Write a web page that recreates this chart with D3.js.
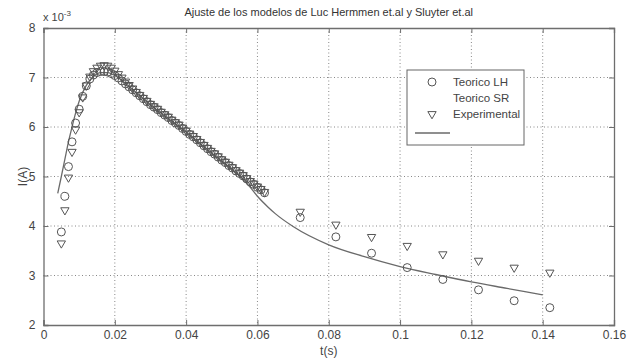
<!DOCTYPE html>
<html>
<head>
<meta charset="utf-8">
<script src="https://cdn.jsdelivr.net/npm/d3@7/dist/d3.min.js"></script>
<style>
body { margin: 0; background: #fff; }
svg { font-family: "Liberation Sans", Arial, sans-serif; }
</style>
</head>
<body>
<svg width="639" height="360"></svg>
<script>
// Ajuste de los modelos - I(A) vs t(s), values in units of 1e-3 A

const title = 'Ajuste de los modelos de Luc Hermmen et.al y Sluyter et.al'
const xTicks = [0, 0.02, 0.04, 0.06, 0.08, 0.1, 0.12, 0.14, 0.16]
const yTicks = [2, 3, 4, 5, 6, 7, 8]

// dense part of the measurement, t = 0.005 .. 0.062
const tDense = d3.range(5, 63).map(function(k) { return k / 1000 })
const lhDense = [3.88, 4.60, 5.20, 5.70, 6.08, 6.36, 6.62, 6.83, 6.97, 7.05,
	7.10, 7.12, 7.12, 7.11, 7.08, 7.04, 6.99, 6.93, 6.87, 6.81,
	6.75, 6.69, 6.63, 6.57, 6.51, 6.45, 6.40, 6.35, 6.29, 6.24,
	6.19, 6.13, 6.08, 6.03, 5.97, 5.91, 5.85, 5.80, 5.74, 5.68,
	5.62, 5.56, 5.50, 5.45, 5.39, 5.33, 5.28, 5.22, 5.17, 5.11,
	5.06, 5.01, 4.95, 4.89, 4.84, 4.78, 4.73, 4.67]
const expDense = [3.65, 4.32, 4.98, 5.50, 5.95, 6.30, 6.60, 6.84, 7.02, 7.13,
	7.20, 7.24, 7.25, 7.24, 7.20, 7.14, 7.07, 7.00, 6.92, 6.85,
	6.78, 6.71, 6.65, 6.59, 6.53, 6.47, 6.42, 6.37, 6.31, 6.26,
	6.21, 6.15, 6.10, 6.05, 5.99, 5.93, 5.87, 5.82, 5.76, 5.70,
	5.64, 5.58, 5.52, 5.47, 5.41, 5.35, 5.30, 5.24, 5.19, 5.13,
	5.08, 5.03, 4.97, 4.91, 4.86, 4.80, 4.75, 4.69]

// sparse part
const tSparse = [0.072, 0.082, 0.092, 0.102, 0.112, 0.122, 0.132, 0.142]
const lhSparse = [4.17, 3.78, 3.45, 3.16, 2.92, 2.71, 2.49, 2.35]
const expSparse = [4.29, 4.03, 3.78, 3.60, 3.43, 3.30, 3.16, 3.06]

// Teorico SR curve
const tSR = [0.004, 0.005, 0.006, 0.007, 0.008, 0.009, 0.010, 0.012, 0.014, 0.016,
	0.018, 0.020, 0.025, 0.030, 0.035, 0.040, 0.045, 0.050, 0.055, 0.058,
	0.060, 0.063, 0.065, 0.070, 0.080, 0.090, 0.100, 0.110, 0.120, 0.130, 0.140]
const srValues = [4.66, 5.00, 5.35, 5.70, 6.00, 6.28, 6.52, 6.84, 7.02, 7.10,
	7.10, 7.04, 6.76, 6.45, 6.17, 5.90, 5.60, 5.31, 5.01, 4.78,
	4.60, 4.38, 4.25, 3.99, 3.62, 3.38, 3.18, 3.02, 2.87, 2.74, 2.61]

const legendLabels = ['Teorico LH', 'Teorico SR', 'Experimental']

const margin = {top: 28, right: 25, bottom: 35, left: 43.5}
const svg = d3.select('svg')
const W = +svg.attr('width') - margin.left - margin.right
const H = +svg.attr('height') - margin.top - margin.bottom

const x = d3.scaleLinear().domain([0, 0.16]).range([0, W])
const y = d3.scaleLinear().domain([2, 8]).range([H, 0])

const g = svg.append('g').attr('transform', 'translate(' + margin.left + ',' + margin.top + ')')

g.append('rect').attr('width', W).attr('height', H).attr('fill', '#fff')

// dotted grid
g.selectAll('.gx').data(xTicks.slice(1, -1)).enter().append('line')
	.attr('x1', function(d) { return x(d) }).attr('x2', function(d) { return x(d) })
	.attr('y1', 0).attr('y2', H)
	.attr('stroke', '#888').attr('stroke-dasharray', '1,2.5')
g.selectAll('.gy').data(yTicks.slice(1, -1)).enter().append('line')
	.attr('y1', function(d) { return y(d) }).attr('y2', function(d) { return y(d) })
	.attr('x1', 0).attr('x2', W)
	.attr('stroke', '#888').attr('stroke-dasharray', '1,2.5')

// axes (MATLAB box with inward ticks)
const axColor = '#6e6e6e'
const xb = g.append('g').attr('transform', 'translate(0,' + H + ')')
	.call(d3.axisBottom(x).tickValues(xTicks).tickSize(-5).tickPadding(8).tickFormat(d3.format('')))
const xt = g.append('g')
	.call(d3.axisTop(x).tickValues(xTicks).tickSize(-5).tickFormat(''))
const yl = g.append('g')
	.call(d3.axisLeft(y).tickValues(yTicks).tickSize(-5).tickPadding(8).tickFormat(d3.format('d')))
const yr = g.append('g').attr('transform', 'translate(' + W + ',0)')
	.call(d3.axisRight(y).tickValues(yTicks).tickSize(-5).tickFormat(''))
;[xb, xt, yl, yr].forEach(function(a) {
	a.select('.domain').attr('stroke', axColor).attr('stroke-width', 1.3)
	a.selectAll('.tick line').attr('stroke', axColor)
	a.selectAll('text').attr('fill', '#444').attr('font-size', 12)
		.attr('font-family', '"Liberation Sans", Arial, sans-serif')
})
xb.selectAll('text').attr('dy', '0.5em')

// SR line
const line = d3.line().x(function(d) { return x(d[0]) }).y(function(d) { return y(d[1]) })
	.curve(d3.curveMonotoneX)
g.append('path').datum(d3.zip(tSR, srValues))
	.attr('d', line).attr('fill', 'none').attr('stroke', '#6a6a6a').attr('stroke-width', 1.3)

const mk = '#555'
const tri = d3.symbol().type(d3.symbolTriangle).size(30)

const expPts = d3.zip(tDense.concat(tSparse), expDense.concat(expSparse))
const lhPts = d3.zip(tDense.concat(tSparse), lhDense.concat(lhSparse))

g.selectAll('.lh').data(lhPts).enter().append('circle')
	.attr('cx', function(d) { return x(d[0]) }).attr('cy', function(d) { return y(d[1]) })
	.attr('r', 4).attr('fill', 'none').attr('stroke', mk).attr('stroke-width', 1)

g.selectAll('.ex').data(expPts).enter().append('path')
	.attr('d', tri)
	.attr('transform', function(d) { return 'translate(' + x(d[0]) + ',' + y(d[1]) + ') rotate(180)' })
	.attr('fill', 'none').attr('stroke', mk).attr('stroke-width', 1)

// title and labels
svg.append('text').attr('x', margin.left + W / 2).attr('y', 16)
	.attr('text-anchor', 'middle').attr('font-size', 11).attr('fill', '#333').text(title)
svg.append('text').attr('x', margin.left + W / 2).attr('y', 355)
	.attr('text-anchor', 'middle').attr('font-size', 12).attr('fill', '#444').text('t(s)')
svg.append('text').attr('transform', 'translate(27,' + (margin.top + H / 2) + ') rotate(-90)')
	.attr('text-anchor', 'middle').attr('font-size', 12).attr('fill', '#444').text('I(A)')
const ex = svg.append('text').attr('x', 43).attr('y', 21).attr('font-size', 11).attr('fill', '#444')
ex.append('tspan').text('x 10')
ex.append('tspan').attr('dy', -5).attr('font-size', 8).text('-3')

// legend
const lg = svg.append('g').attr('transform', 'translate(407,70)')
lg.append('rect').attr('width', 117).attr('height', 75)
	.attr('fill', '#fff').attr('stroke', '#666').attr('stroke-width', 1)
lg.selectAll('.lt').data(legendLabels).enter().append('text')
	.attr('x', 46).attr('y', function(d, i) { return 16 + i * 16 })
	.attr('font-size', 11.5).attr('fill', '#444').text(function(d) { return d })
lg.append('circle').attr('cx', 25).attr('cy', 12).attr('r', 4)
	.attr('fill', 'none').attr('stroke', mk)
lg.append('path').attr('d', tri).attr('transform', 'translate(25,44) rotate(180)')
	.attr('fill', 'none').attr('stroke', mk)
lg.append('line').attr('x1', 8).attr('x2', 43).attr('y1', 63).attr('y2', 63)
	.attr('stroke', '#6a6a6a').attr('stroke-width', 1.3)
</script>
</body>
</html>
